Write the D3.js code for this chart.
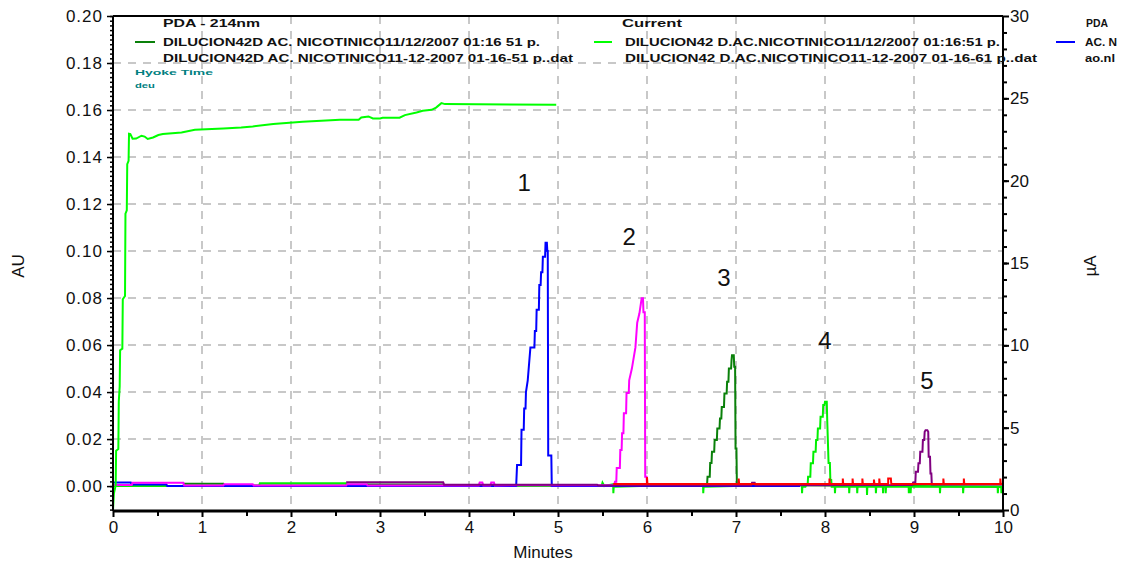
<!DOCTYPE html>
<html><head><meta charset="utf-8">
<script src="https://cdn.jsdelivr.net/npm/d3@7"></script>
<style>body{margin:0;background:#fff;} svg{display:block;font-family:"Liberation Sans",Arial,sans-serif;}</style>
</head><body><svg id="c" width="1121" height="562"></svg>
<script>
// ---------- DATA ----------
const xTicks = [0,1,2,3,4,5,6,7,8,9,10];
const yLeftTicks = [0,0.02,0.04,0.06,0.08,0.10,0.12,0.14,0.16,0.18,0.20];
const yRightTicks = [0,5,10,15,20,25,30];

// PDA traces, [minutes, AU]
const bluePeak1 = [[0,0.0015],[0.2,0.0015],[0.21,0.0007],[0.6,0.0007],[0.61,0],[4.53,0],[4.54,0.009],[4.585,0.009],[4.59,0.024],[4.615,0.024],[4.62,0.033],[4.635,0.033],[4.64,0.040],[4.66,0.045],[4.69,0.059],[4.735,0.059],[4.74,0.066],[4.755,0.066],[4.76,0.075],[4.785,0.075],[4.79,0.0855],[4.805,0.0855],[4.81,0.091],[4.825,0.091],[4.83,0.0976],[4.855,0.0976],[4.86,0.1035],[4.875,0.1035],[4.88,0.100],[4.885,0.100],[4.89,0.013],[4.925,0.013],[4.93,0],[7.72,0]];
const magentaPeak2 = [[0,0.0005],[0.21,0.0005],[0.22,0.0014],[0.79,0.0014],[0.8,0.0003],[1.24,0.0003],[1.25,0.0008],[1.57,0.0008],[1.58,0.0003],[2.62,0.0003],[2.63,0.0008],[2.85,0.0008],[2.86,0.0003],[4.11,0.0003],[4.12,0.0015],[4.15,0.0015],[4.16,0.0003],[4.24,0.0003],[4.25,0.0015],[4.28,0.0015],[4.29,0.0003],[5.44,0.0004],[5.63,0.0004],[5.64,0.0018],[5.655,0.0018],[5.66,0.0077],[5.695,0.0077],[5.70,0.0153],[5.715,0.0153],[5.72,0.0225],[5.735,0.0225],[5.74,0.031],[5.765,0.031],[5.77,0.0396],[5.795,0.0396],[5.80,0.045],[5.83,0.050],[5.87,0.059],[5.89,0.0695],[5.915,0.0735],[5.94,0.0799],[5.955,0.0799],[5.96,0.074],[5.975,0.074],[5.98,0.004],[5.995,0.004],[6.0,0.0005],[6.6,0.0005]];
const darkGreenPeak3 = [[0,0],[0.79,0],[0.8,0.001],[1.24,0.001],[1.25,0.0003],[2.85,0.0003],[2.86,0.0007],[3.7,0.0007],[3.71,0],[6.63,0],[6.64,0.0008],[6.675,0.0008],[6.68,0.004],[6.705,0.004],[6.71,0.0098],[6.725,0.0098],[6.73,0.0146],[6.755,0.0146],[6.76,0.0196],[6.785,0.0196],[6.79,0.0245],[6.815,0.0245],[6.82,0.0288],[6.835,0.0288],[6.84,0.0337],[6.865,0.0337],[6.87,0.0394],[6.895,0.0394],[6.90,0.0444],[6.915,0.0444],[6.92,0.050],[6.945,0.050],[6.95,0.0536],[6.955,0.0557],[6.975,0.0557],[6.98,0.0508],[6.99,0.0508],[6.995,0.016],[7.005,0.016],[7.01,0.0005],[10,-0.0003]];
const limePeak4 = [[0,0],[1.64,0],[1.65,0.0012],[2.62,0.0012],[2.63,0],[5.49,0],[5.50,0.0014],[5.52,0],[5.62,0.0008],[5.622,-0.003],[5.626,-0.0003],[6.63,0.0008],[6.632,-0.003],[6.636,-0.0003],[7.74,0.0008],[7.742,-0.003],[7.746,-0.0003],[7.78,-0.0003],[7.79,0.0005],[7.805,0.0005],[7.81,0.004],[7.835,0.004],[7.84,0.0097],[7.865,0.0097],[7.87,0.0146],[7.895,0.0146],[7.90,0.0196],[7.915,0.0196],[7.92,0.0245],[7.945,0.0245],[7.95,0.0295],[7.975,0.0295],[7.98,0.0345],[7.995,0.0345],[8.0,0.0359],[8.02,0.0359],[8.025,0.028],[8.04,0.0098],[8.055,0.0098],[8.06,0.0026],[8.07,0.0026],[8.075,-0.0003],[8.11,-0.0003],[8.112,-0.003],[8.116,-0.0003],[8.27,-0.0003],[8.272,-0.003],[8.276,-0.0003],[8.36,-0.0003],[8.362,-0.003],[8.366,-0.0003],[8.47,-0.0003],[8.472,-0.0038],[8.476,-0.0003],[8.57,-0.0003],[8.572,-0.003],[8.576,-0.0003],[8.65,-0.0003],[8.652,-0.003],[8.656,-0.0003],[8.68,-0.0003],[8.682,-0.003],[8.686,-0.0003],[8.94,-0.0003],[8.942,-0.003],[8.946,-0.0003],[8.96,-0.0003],[8.962,-0.003],[8.966,-0.0003],[9.29,-0.0003],[9.292,-0.003],[9.296,-0.0003],[9.55,-0.0003],[9.552,-0.003],[9.556,-0.0003],[9.94,-0.0003],[9.942,-0.003],[9.946,-0.0003],[9.98,-0.0003],[9.982,-0.003],[9.986,-0.0003],[10,-0.0003]];
const purplePeak5 = [[2.62,0.0016],[3.71,0.0016],[3.72,0.0006],[5.44,0.0006],[5.45,0.0003],[7.17,0.0003],[7.18,0.0014],[7.21,0.0014],[7.22,0.0003],[8.98,0.0005],[8.99,0.0015],[9.015,0.0015],[9.02,0.0061],[9.045,0.0061],[9.05,0.0097],[9.065,0.0097],[9.07,0.0146],[9.095,0.0146],[9.10,0.0196],[9.115,0.0196],[9.12,0.0231],[9.13,0.0238],[9.15,0.0238],[9.16,0.0231],[9.165,0.0125],[9.18,0.0125],[9.185,0.0054],[9.195,0.0054],[9.2,0.0007],[10,0.0007]];
const redBaseline = [[5.62,0.0009],[6.0,0.0009],[6.0,0.0038],[6.005,0.0009],[7.03,0.0009],[7.03,0.0032],[7.035,0.0009],[8.05,0.0009],[8.05,0.0032],[8.055,0.0009],[8.2,0.0009],[8.2,0.0032],[8.205,0.0009],[8.31,0.0009],[8.31,0.0032],[8.315,0.0009],[8.42,0.0009],[8.42,0.0032],[8.425,0.0009],[8.55,0.0009],[8.55,0.0028],[8.555,0.0009],[8.61,0.0009],[8.61,0.0032],[8.615,0.0009],[8.71,0.0009],[8.71,0.0032],[8.74,0.0032],[8.745,0.0009],[9.33,0.0009],[9.33,0.0032],[9.335,0.0009],[9.56,0.0009],[9.56,0.0032],[9.565,0.0009],[9.97,0.0009],[9.97,0.0032],[9.975,0.0009],[10,0.0009],[10,0.0035]];
// Current trace, [minutes, µA]
const currentUA = [[0,0],[0.01,1.0],[0.03,1.5],[0.035,3.6],[0.06,3.7],[0.065,6.6],[0.075,7.5],[0.08,9.7],[0.105,9.8],[0.11,12.8],[0.135,13.0],[0.14,18.0],[0.155,18.2],[0.16,21.0],[0.175,21.2],[0.18,22.85],[0.195,22.83],[0.22,22.55],[0.26,22.56],[0.32,22.73],[0.355,22.68],[0.39,22.53],[0.45,22.62],[0.51,22.77],[0.56,22.83],[0.77,22.93],[0.92,23.09],[1.24,23.17],[1.44,23.23],[1.57,23.29],[1.80,23.44],[2.13,23.58],[2.55,23.70],[2.76,23.70],[2.79,23.84],[2.87,23.90],[2.92,23.78],[3.0,23.78],[3.03,23.82],[3.22,23.82],[3.28,23.98],[3.41,24.14],[3.48,24.24],[3.58,24.30],[3.63,24.44],[3.69,24.71],[3.73,24.65],[4.98,24.61]];

const peakLabels = ["1","2","3","4","5"];
const peakLabelAt = [[4.62,0.129],[5.80,0.1064],[6.865,0.0889],[8.0,0.0621],[9.146,0.0451]];

const legend1Title = "PDA - 214nm";
const legend1Lines = ["DILUCION42D AC. NICOTINICO11/12/2007 01:16 51 p.","DILUCION42D AC. NICOTINICO11-12-2007 01-16-51 p..dat"];
const legend1Note = ["Hyoke Time","deu"];
const legend2Title = "Current";
const legend2Lines = ["DILUCION42 D.AC.NICOTINICO11/12/2007 01:16:51 p.","DILUCION42 D.AC.NICOTINICO11-12-2007 01-16-61 p..dat"];
const legend3Title = "PDA";
const legend3Lines = ["AC. N","ao.nl"];

// ---------- DRAW ----------
const svg = d3.select("#c");
svg.append("rect").attr("width",1121).attr("height",562).attr("fill","#fff");
const L=113,R=1003,T=16,B=511;
const x = d3.scaleLinear([0,10],[L,R]);
const yL = d3.scaleLinear([-0.0106,0.20],[B,T]);
const yR = d3.scaleLinear([-0.06,30],[B,T]);

// grid
const grid = svg.append("g").attr("stroke","#c8c8c8").attr("stroke-width",2).attr("stroke-dasharray","8,7");
grid.selectAll("line.v").data(xTicks.slice(1,-1)).join("line")
  .attr("x1",d=>x(d)).attr("x2",d=>x(d)).attr("y1",T).attr("y2",B);
grid.selectAll("line.h").data(yLeftTicks.slice(1,-1)).join("line")
  .attr("x1",L).attr("x2",R).attr("y1",d=>yL(d)).attr("y2",d=>yL(d));

// traces
const lineL = d3.line().x(d=>x(d[0])).y(d=>yL(d[1]));
const lineR = d3.line().x(d=>x(d[0])).y(d=>yR(d[1]));
const traces = [
  [darkGreenPeak3,"#0a800a"],
  [limePeak4,"#00f000"],
  [bluePeak1,"#0000ff"],
  [magentaPeak2,"#ff00ff"],
  [purplePeak5,"#800080"],
  [redBaseline,"#ff0000"]
];
traces.forEach(([d,c])=>{
  svg.append("path").datum(d).attr("d",lineL).attr("fill","none").attr("stroke",c).attr("stroke-width",2);
});
svg.append("path").datum(currentUA).attr("d",lineR).attr("fill","none").attr("stroke","#00ff00").attr("stroke-width",2);

// frame / axes
svg.append("line").attr("x1",L).attr("x2",R).attr("y1",T).attr("y2",T).attr("stroke","#000").attr("stroke-width",2);

const fmt = d3.format(".2f");
const gl = svg.append("g").attr("transform",`translate(${L},0)`);
gl.append("g").call(d3.axisLeft(yL).tickValues(d3.range(-0.01,0.2001,0.002)).tickSize(3).tickFormat(""))
  .call(g=>g.select(".domain").remove()).selectAll("line").attr("stroke-width",1.5);
gl.append("g").call(d3.axisLeft(yL).tickValues(yLeftTicks).tickSize(6).tickPadding(4).tickFormat(fmt))
  .call(g=>g.select(".domain").attr("d",`M0,${T}V${B}`).attr("stroke-width",2))
  .call(g=>g.selectAll("text").attr("font-size",17).attr("letter-spacing",1).attr("fill","#111"))
  .selectAll("line").attr("stroke-width",1.5);

const gb = svg.append("g").attr("transform",`translate(0,${B})`);
gb.append("g").call(d3.axisBottom(x).tickValues(d3.range(0.5,10,1)).tickSize(5).tickFormat(""))
  .call(g=>g.select(".domain").remove()).selectAll("line").attr("stroke-width",2);
gb.append("g").call(d3.axisBottom(x).tickValues(xTicks).tickSize(6).tickPadding(4))
  .call(g=>g.select(".domain").attr("d",`M${L},0H${R}`).attr("stroke-width",3))
  .call(g=>g.selectAll("text").attr("font-size",17).attr("fill","#111"))
  .selectAll("line").attr("stroke-width",2);

const gr = svg.append("g").attr("transform",`translate(${R},0)`);
gr.append("g").call(d3.axisRight(yR).tickValues(d3.range(1,30,1)).tickSize(4).tickFormat(""))
  .call(g=>g.select(".domain").remove()).selectAll("line").attr("stroke-width",2);
gr.append("g").call(d3.axisRight(yR).tickValues(yRightTicks).tickSize(6).tickPadding(1))
  .call(g=>g.select(".domain").attr("d",`M0,${T}V${B}`).attr("stroke-width",2))
  .call(g=>g.selectAll("text").attr("font-size",17).attr("fill","#111"))
  .selectAll("line").attr("stroke-width",2);

// axis titles
svg.append("text").attr("x",543).attr("y",558).attr("text-anchor","middle").attr("font-size",17).attr("fill","#111").text("Minutes");
svg.append("text").attr("transform","translate(24,266) rotate(-90)").attr("text-anchor","middle").attr("font-size",17).attr("fill","#111").text("AU");
svg.append("text").attr("transform","translate(1096,266) rotate(-90)").attr("text-anchor","middle").attr("font-size",17).attr("fill","#111").text("µA");

// peak labels
svg.selectAll("text.pk").data(peakLabels).join("text").attr("class","pk")
  .attr("x",(d,i)=>x(peakLabelAt[i][0])).attr("y",(d,i)=>yL(peakLabelAt[i][1]))
  .attr("text-anchor","middle").attr("dominant-baseline","central")
  .attr("font-size",24).attr("fill","#111").text(d=>d);

// legends
const lg = svg.append("g").attr("font-weight","bold").attr("font-size",11).attr("fill","#111");
function ltext(t,x0,y0,w){const e=lg.append("text").attr("x",x0).attr("y",y0).text(t);if(w)e.attr("textLength",w).attr("lengthAdjust","spacingAndGlyphs");return e;}
ltext(legend1Title,163,27,97);
ltext(legend1Lines[0],163,46,377);
ltext(legend1Lines[1],163,62,410);
lg.append("line").attr("x1",135).attr("x2",155).attr("y1",42).attr("y2",42).attr("stroke","#0a800a").attr("stroke-width",2);
ltext(legend1Note[0],135,75,78).attr("font-size",8).attr("fill","#008080");
ltext(legend1Note[1],135,88,20).attr("font-size",8).attr("fill","#008080");

ltext(legend2Title,622,27,60);
ltext(legend2Lines[0],625,46,375);
ltext(legend2Lines[1],625,62,412);
lg.append("line").attr("x1",594).attr("x2",612).attr("y1",42).attr("y2",42).attr("stroke","#00ff00").attr("stroke-width",2);

ltext(legend3Title,1086,27,22);
ltext(legend3Lines[0],1085,46,32);
ltext(legend3Lines[1],1085,62,30);
lg.append("line").attr("x1",1056).attr("x2",1075).attr("y1",42).attr("y2",42).attr("stroke","#0000ff").attr("stroke-width",2);
</script></body></html>
